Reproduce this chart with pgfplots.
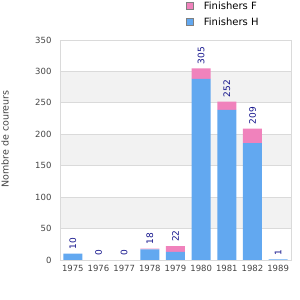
\documentclass[border=0pt]{standalone}
\usepackage{pgfplots}
\pgfplotsset{compat=1.18}
\usepackage{pgfplotstable}
\usepackage{fontspec}
\setmainfont{DejaVu Sans}
\definecolor{barH}{RGB}{98,168,240}
\definecolor{barF}{RGB}{240,130,188}
\definecolor{band}{RGB}{242,242,242}
\definecolor{gridc}{RGB}{218,218,218}
\definecolor{ticktxt}{RGB}{68,68,68}
\definecolor{vallab}{RGB}{20,20,140}
\pgfplotstableread{
x year H F total
0 1975 10 0 10
1 1976 0 0 0
2 1977 0 0 0
3 1978 17 1 18
4 1979 13 9 22
5 1980 288 17 305
6 1981 239 13 252
7 1982 186 23 209
8 1989 1 0 1
}\datatab
\pgfplotsset{common/.style={
  at={(60pt,40pt)}, anchor=south west,
  scale only axis, width=231pt, height=220pt,
  bar width=19pt,
  xmin=-0.5, xmax=8.5, ymin=0, ymax=350,
  /pgf/number format/assume math mode=true,
}}
\begin{document}
\begin{tikzpicture}
\useasboundingbox (0pt,0pt) rectangle (300pt,300pt);
\begin{axis}[common, hide axis]
\fill[band] (axis cs:-0.5,50) rectangle (axis cs:8.5,100);
\fill[band] (axis cs:-0.5,150) rectangle (axis cs:8.5,200);
\fill[band] (axis cs:-0.5,250) rectangle (axis cs:8.5,300);
\end{axis}
\begin{axis}[
  common,
  ybar stacked,
  xtick=data, xticklabels={1975,1976,1977,1978,1979,1980,1981,1982,1989},
  ytick={0,50,...,350},
  major tick length=0pt,
  ymajorgrids, grid style={gridc, line width=0.8pt},
  axis line style={gridc, line width=0.8pt},
  tick label style={font=\fontsize{8.5}{10}\selectfont, text=ticktxt},
  yticklabel style={xshift=-5pt},
  xticklabel style={yshift=-2pt},
  ylabel={Nombre de coureurs},
  ylabel style={at={(-0.238,0.55)}, anchor=center, font=\fontsize{9.5}{11}\selectfont, text=ticktxt},
  legend style={at={(0.545,1.185)}, anchor=north west, draw=none, fill=none,
    font=\fontsize{10}{12}\selectfont, row sep=3pt, inner sep=0pt,
    cells={anchor=west}},
  legend cell align=left,
  reverse legend,
  legend image code/.code={\draw[#1, draw=gray, line width=0.8pt] (0pt,-3.5pt) rectangle (7pt,3.5pt);},
]
\addplot[fill=barH, draw=none] table[x=x, y=H] {\datatab};
\addlegendentry{\hspace{8pt}Finishers H}
\addplot[fill=barF, draw=none] table[x=x, y=F] {\datatab};
\addlegendentry{\hspace{8pt}Finishers F}
\end{axis}
\begin{axis}[
  common, hide axis, ybar,
]
\addplot[fill=none, draw=none,
  nodes near coords, point meta=explicit,
  every node near coord/.append style={rotate=90, anchor=west, inner sep=4pt,
    font=\fontsize{9}{10}\selectfont, text=vallab}]
  table[x=x, y=total, meta=total] {\datatab};
\end{axis}
\end{tikzpicture}
\end{document}
